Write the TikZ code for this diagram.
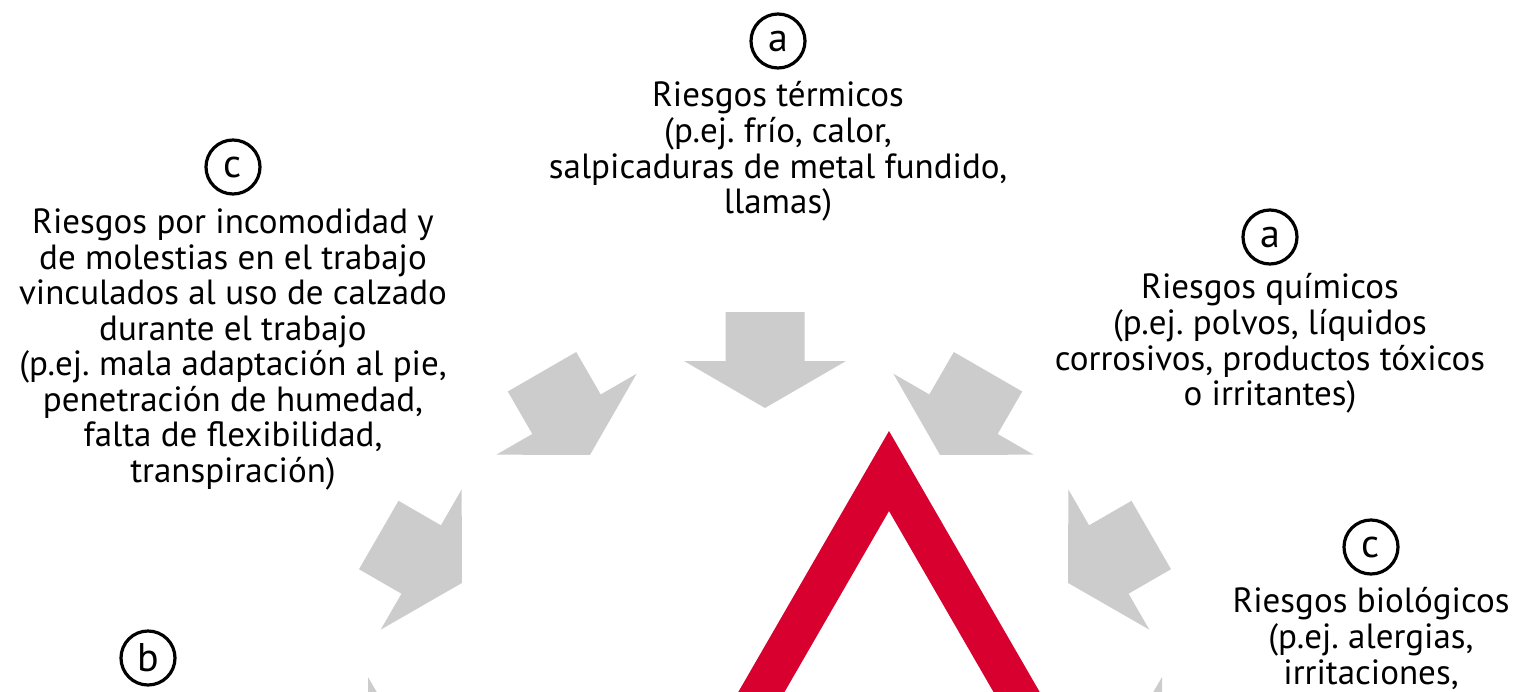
\documentclass[tikz,border=0pt]{standalone}
\usepackage{fontspec}
\setmainfont{PT Sans}
\frenchspacing
\usetikzlibrary{positioning}
\definecolor{arrow color}{HTML}{CCCCCC}
\definecolor{sign color}{HTML}{D7002F}
\tikzset{
    x={1pt},
    y={-1pt},
    risk mark/.style={
        circle, draw=black,
        line width={3.2pt},
        inner sep=0pt,
        minimum size={54pt},
        font={\fontsize{40}{40}\selectfont},
    },
    risk text/.style={
        align=center,
        inner sep=0pt,
        font={\fontsize{35}{35.5}\selectfont},
    },
    block arrow/.style={
        fill=arrow color,
    },
    sign band/.style={
        fill=sign color,
        even odd rule,
    },
}

\begin{document}
\begin{tikzpicture}
\useasboundingbox (0,0) rectangle (1518,691);
\clip (0,0) rectangle (1518,691);
% arrows
\foreach \a in {0,30,...,180}
    \path[block arrow, shift={(765,758)}, rotate=\a] (350,0) -- (397,81) -- (397,39.5) -- (446,39.5) -- (446,-39.5) -- (397,-39.5) -- (397,-81) -- cycle;
% warning sign
\path[sign band] (889,431) -- (618.2,900) -- (1159.8,900) -- cycle
    (889,511) -- (664.4,900) -- (1113.6,900) -- cycle;
% risks
\node[risk mark] (mark termicos) at (778,41) {a};
\node[risk text, below=11pt of mark termicos] (termicos) {\strut Riesgos térmicos\\(p.ej. frío, calor,\\salpicaduras de metal fundido,\\llamas)};
\node[risk mark] (mark quimicos) at (1270,237) {a};
\node[risk text, below=7pt of mark quimicos] (quimicos) {\strut Riesgos químicos\\(p.ej. polvos, líquidos\\corrosivos, productos tóxicos\\o irritantes)};
\node[risk mark] (mark biologicos) at (1371,547) {c};
\node[risk text, below=11pt of mark biologicos] (biologicos) {\strut Riesgos biológicos\\(p.ej. alergias,\\irritaciones,};
\node[risk mark] (mark incomodidad) at (233,167) {c};
\node[risk text, below=13pt of mark incomodidad] (incomodidad) {\strut Riesgos por incomodidad y\\de molestias en el trabajo\\vinculados al uso de calzado\\durante el trabajo\\(p.ej. mala adaptación al pie,\\penetración de humedad,\\falta de flexibilidad,\\transpiración)};
\node[risk mark] (mark b) at (148,658) {b};
\end{tikzpicture}
\end{document}
